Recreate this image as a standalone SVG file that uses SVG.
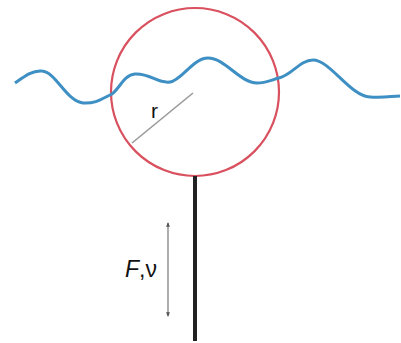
<svg xmlns="http://www.w3.org/2000/svg" width="401" height="343" viewBox="0 0 401 343">
<defs>
<style>
.lbl{font-family:"Liberation Sans",Arial,sans-serif;fill:#111;}
</style>
<marker id="ah" viewBox="0 0 10 10" refX="8" refY="5" markerWidth="4" markerHeight="5" orient="auto-start-reverse">
<path d="M0,1 L10,5 L0,9 Z" fill="#555"/>
</marker>
</defs>
<rect width="401" height="343" fill="#fff"/>
<g id="buoy">
<circle cx="195" cy="92" r="84" fill="none" stroke="#d9505e" stroke-width="2.2"/>
<line x1="193" y1="93" x2="132" y2="143" stroke="#999" stroke-width="1.6"/>
<text class="lbl" x="151" y="118" font-size="21">r</text>
</g>
<g id="wave">
<path d="M15,83 C25,76 33,70 42,71 C56,72 66,101 83,103 C96,104 103,98 112,94 C120,88 124,75 135,74 C150,73 158,84 170,82 C182,80 193,58 208,58 C225,58 240,83 257,83 C266,83 271,80 279,78 C292,75 300,60 313,60 C330,60 350,96 370,97 C385,98 392,96 400,96" fill="none" stroke="#3d8fc4" stroke-width="3"/>
</g>
<g id="tether">
<line x1="195" y1="176" x2="195" y2="341" stroke="#222" stroke-width="4"/>
</g>
<g id="connectors">
<line x1="168" y1="223" x2="168" y2="316" stroke="#777" stroke-width="1.2" marker-start="url(#ah)" marker-end="url(#ah)"/>
</g>
<g id="force-label">
<text class="lbl" x="125" y="277" font-size="23"><tspan font-style="italic">F</tspan>,ν</text>
</g>
</svg>
